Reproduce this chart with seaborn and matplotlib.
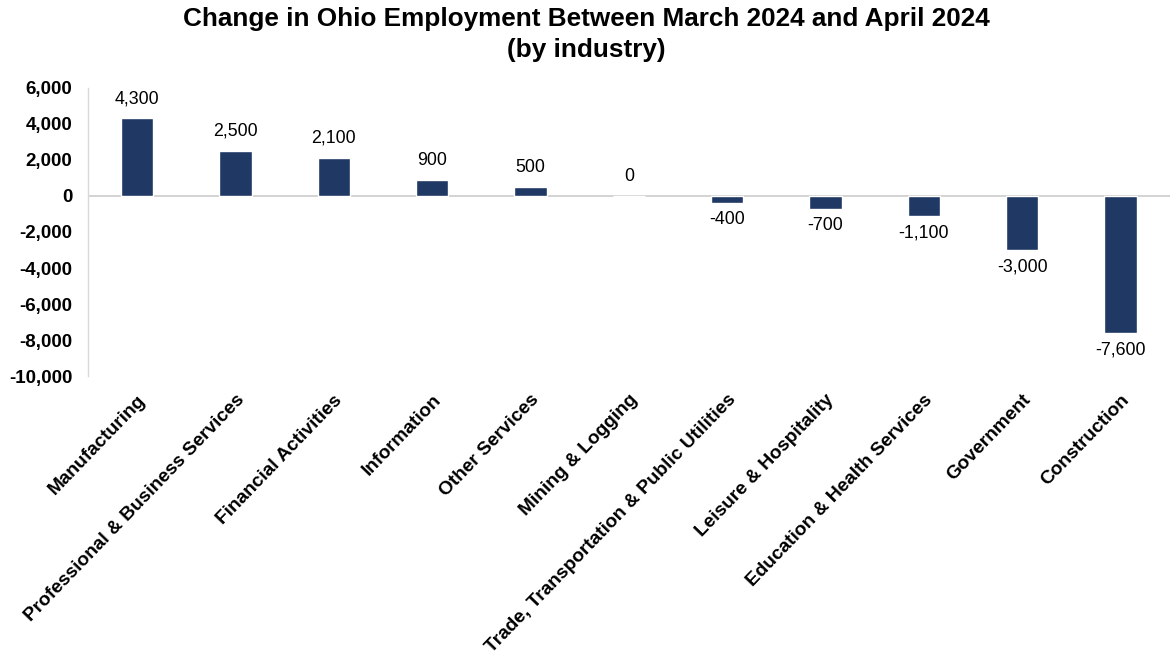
import matplotlib

matplotlib.use("Agg")

import matplotlib.pyplot as plt
import pandas as pd
import seaborn as sns
from matplotlib.ticker import FuncFormatter, MultipleLocator

INDUSTRIES = [
    "Manufacturing",
    "Professional & Business Services",
    "Financial Activities",
    "Information",
    "Other Services",
    "Mining & Logging",
    "Trade, Transportation & Public Utilities",
    "Leisure & Hospitality",
    "Education & Health Services",
    "Government",
    "Construction",
]
CHANGE = [4300, 2500, 2100, 900, 500, 0, -400, -700, -1100, -3000, -7600]

BAR_COLOR = "#1F3864"

sns.set_theme(style="white")
plt.rcParams["font.family"] = ["Liberation Sans", "DejaVu Sans"]
plt.rcParams.update({"text.color": "black", "xtick.color": "black", "ytick.color": "black"})

df = pd.DataFrame({"industry": INDUSTRIES, "change": CHANGE})

fig = plt.figure(figsize=(11.72, 6.6), dpi=100)
ax = fig.add_axes([0.075, 0.430, 0.923, 0.437])

sns.barplot(data=df, x="industry", y="change", color=BAR_COLOR, width=0.33,
            saturation=1, ax=ax)

ax.set_ylim(-10000, 6000)
ax.yaxis.set_major_locator(MultipleLocator(2000))
ax.yaxis.set_major_formatter(FuncFormatter(lambda v, p: f"{int(v):,}"))
ax.axhline(0, color="#D0D0D0", lw=1.3, zorder=0)

for s in ["top", "right", "bottom"]:
    ax.spines[s].set_visible(False)
ax.spines["left"].set_color("#D9D9D9")
ax.spines["left"].set_linewidth(1.0)
ax.tick_params(axis="both", length=0)
ax.tick_params(axis="y", labelsize=13.5, pad=11)
for t in ax.get_yticklabels():
    t.set_fontweight("bold")

ax.set_xlabel("")
ax.set_ylabel("")
ax.set_xticks(range(len(INDUSTRIES)))
ax.set_xticklabels(INDUSTRIES, rotation=46, ha="right", rotation_mode="anchor",
                   fontsize=13.8, fontweight="bold")
ax.tick_params(axis="x", pad=11)

for i, v in enumerate(CHANGE):
    if v >= 0:
        ax.annotate(f"{v:,}", (i, v), xytext=(0, 8), textcoords="offset points",
                    ha="center", va="bottom", fontsize=12.8)
    else:
        ax.annotate(f"{v:,}", (i, v), xytext=(0, -6), textcoords="offset points",
                    ha="center", va="top", fontsize=12.8)

fig.suptitle("Change in Ohio Employment Between March 2024 and April 2024\n(by industry)",
             fontsize=18.8, fontweight="bold", y=0.99, linespacing=1.4)

fig.savefig("out.png", dpi=100)
